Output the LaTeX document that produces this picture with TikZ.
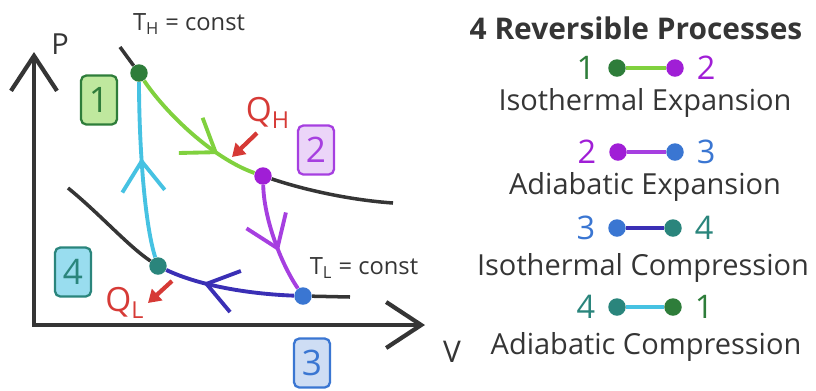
\documentclass[tikz,border=0pt]{standalone}
\usepackage{fontspec}
\setmainfont{Open Sans}
\usetikzlibrary{arrows.meta, positioning, decorations.markings}

\definecolor{ink}{HTML}{353535}
\definecolor{ptone}{HTML}{2E7D3A}
\definecolor{pttwo}{HTML}{A01ED6}
\definecolor{ptthree}{HTML}{3A76D2}
\definecolor{ptfour}{HTML}{2A857C}
\definecolor{isoexp}{HTML}{80D13E}
\definecolor{adiexp}{HTML}{A63FE0}
\definecolor{isocomp}{HTML}{3A2FB5}
\definecolor{adicomp}{HTML}{46C2E2}
\definecolor{heat}{HTML}{D63A36}

\tikzset{
  axis/.style = {line width=2.4pt, draw=ink,
    {Straight Barb[length=0.7cm, width=0.92cm]}-{Straight Barb[length=0.7cm, width=0.92cm]}},
  isotherm/.style = {line width=2pt, draw=ink},
  process/.style = {line width=2.2pt},
  midarrow/.style = {postaction={decorate},
    decoration={markings, mark=at position #1 with {\arrow{Straight Barb[length=0.6cm, width=0.85cm]}}}},
  state/.style = {circle, inner sep=0pt, minimum size=0.35cm},
  stepbox/.style = {draw, rounded corners=3pt, line width=1.3pt, inner sep=0pt,
    minimum width=0.72cm, minimum height=0.98cm, font=\fontsize{20}{20}\selectfont},
  heatflow/.style = {draw=heat, line width=2.4pt, -{Triangle[length=0.25cm, width=0.3cm]}},
  legtext/.style = {inner sep=0pt, text=ink, font=\fontsize{16.5}{16.5}\selectfont},
  legnum/.style = {inner sep=0pt, font=\fontsize{18.5}{18.5}\selectfont}
}

\begin{document}
\begin{tikzpicture}[x=0.02cm, y=-0.02cm]
  \useasboundingbox (0,0) rectangle (816,390);

  % Axes
  \coordinate (ptop) at (34,52);
  \coordinate (origin) at (34,325);
  \coordinate (vend) at (425,325);
  \draw[axis] (ptop) -- (origin) -- (vend);
  \node[inner sep=0pt, text=ink, font=\fontsize{16.5}{16.5}\selectfont] (plabel) at (60,44) {P};
  \node[inner sep=0pt, text=ink, font=\fontsize{17}{17}\selectfont] (vlabel) at (452,352) {V};

  % States
  \node[state, fill=ptone] (s1) at (139,73) {};
  \node[state, fill=pttwo] (s2) at (263,176) {};
  \node[state, fill=ptthree] (s3) at (303,296) {};
  \node[state, fill=ptfour] (s4) at (158,266) {};

  % Isotherms
  \coordinate (thstart) at (120,47);
  \coordinate (thend) at (393,203);
  \coordinate (tlstart) at (68,188);
  \coordinate (tlend) at (350,297);
  \draw[isotherm] (thstart) -- (s1);
  \draw[isotherm] (s2) .. controls (305,190) and (350,200) .. (thend);
  \draw[isotherm] (tlstart) .. controls (100,214) and (128,246) .. (s4);
  \draw[isotherm] (s3) -- (tlend);
  \node[inner sep=0pt, text=ink, font=\fontsize{13.5}{13.5}\selectfont] (thlabel) at (189,24) {T\textsubscript{H} = const};
  \node[inner sep=0pt, text=ink, font=\fontsize{13.5}{13.5}\selectfont] (tllabel) at (364,268) {T\textsubscript{L} = const};

  % Isothermal expansion 1-2
  \draw[process, isoexp, midarrow=0.72] (s1) .. controls (165,112) and (212,158) .. (s2);
  % Adiabatic expansion 2-3
  \draw[process, adiexp, midarrow=0.62] (s2) .. controls (264,218) and (280,262) .. (s3);
  % Isothermal compression 3-4
  \draw[process, isocomp, midarrow=0.7] (s3) .. controls (250,294) and (200,286) .. (s4);
  % Adiabatic compression 4-1
  \draw[process, adicomp, midarrow=0.57] (s4) .. controls (144,222) and (139,140) .. (s1);

  % Heat
  \node[inner sep=0pt, text=heat, font=\fontsize{19}{19}\selectfont] (qh) at (268,113) {Q\textsubscript{H}};
  \node[inner sep=0pt, text=heat, font=\fontsize{19}{19}\selectfont] (ql) at (125,303) {Q\textsubscript{L}};
  \coordinate (qhfrom) at (257,133);
  \coordinate (qhto) at (232,157);
  \coordinate (qlfrom) at (172,281);
  \coordinate (qlto) at (148,303);
  \draw[heatflow] (qhfrom) -- (qhto);
  \draw[heatflow] (qlfrom) -- (qlto);

  % Step boxes
  \node[stepbox, draw=ptone, fill=isoexp!50, text=ptone] (box1) at (99,100) {1};
  \node[stepbox, draw=adiexp, fill=adiexp!22, text=adiexp] (box2) at (316,150) {2};
  \node[stepbox, draw=ptfour, fill=adicomp!55, text=ptfour] (box4) at (73,272) {4};
  \node[stepbox, draw=ptthree, fill=ptthree!25, text=ptthree] (box3) at (312,363) {3};

  % Legend
  \node[legtext, font=\fontsize{17}{17}\selectfont\bfseries] (title) at (636,28) {4 Reversible Processes};

  \node[state, fill=ptone] (l1a) at (617,68) {};
  \node[state, fill=pttwo] (l1b) at (675,68) {};
  \draw[process, isoexp] (l1a) -- (l1b);
  \node[legnum, text=ptone, left=7pt of l1a] (n1a) {1};
  \node[legnum, text=pttwo, right=7pt of l1b] (n1b) {2};
  \node[legtext] (iso1) at (645,103) {Isothermal Expansion};

  \node[state, fill=pttwo] (l2a) at (618,152) {};
  \node[state, fill=ptthree] (l2b) at (675,152) {};
  \draw[process, adiexp] (l2a) -- (l2b);
  \node[legnum, text=pttwo, left=7pt of l2a] (n2a) {2};
  \node[legnum, text=ptthree, right=7pt of l2b] (n2b) {3};
  \node[legtext] (adi1) at (645,187) {Adiabatic Expansion};

  \node[state, fill=ptthree] (l3a) at (617,228) {};
  \node[state, fill=ptfour] (l3b) at (673,228) {};
  \draw[process, isocomp] (l3a) -- (l3b);
  \node[legnum, text=ptthree, left=7pt of l3a] (n3a) {3};
  \node[legnum, text=ptfour, right=7pt of l3b] (n3b) {4};
  \node[legtext] (iso2) at (643,268) {Isothermal Compression};

  \node[state, fill=ptfour] (l4a) at (617,307) {};
  \node[state, fill=ptone] (l4b) at (673,307) {};
  \draw[process, adicomp] (l4a) -- (l4b);
  \node[legnum, text=ptfour, left=7pt of l4a] (n4a) {4};
  \node[legnum, text=ptone, right=7pt of l4b] (n4b) {1};
  \node[legtext] (adi2) at (646,347) {Adiabatic Compression};

\end{tikzpicture}
\end{document}
